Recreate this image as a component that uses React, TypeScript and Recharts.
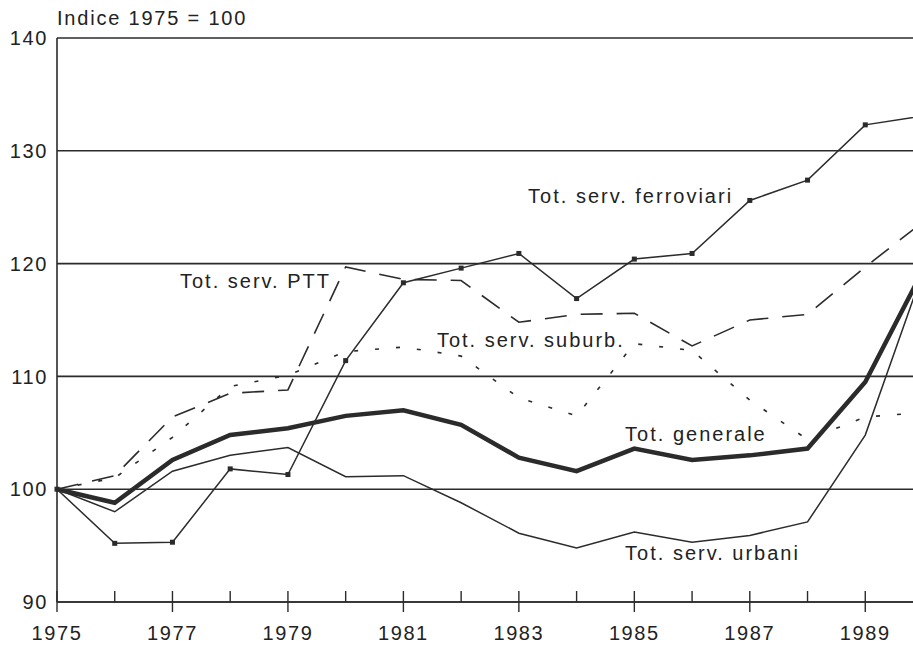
import React from 'react';
import { LineChart, Line, XAxis, YAxis, CartesianGrid, ReferenceDot } from 'recharts';

const years = [1975, 1976, 1977, 1978, 1979, 1980, 1981, 1982, 1983, 1984, 1985, 1986, 1987, 1988, 1989, 1990];
const ferroviari = [100, 95.2, 95.3, 101.8, 101.3, 111.4, 118.3, 119.6, 120.9, 116.9, 120.4, 120.9, 125.6, 127.4, 132.3, 133.1];
const ptt = [100, 101.2, 106.4, 108.5, 108.8, 119.7, 118.6, 118.5, 114.8, 115.5, 115.6, 112.7, 115.0, 115.5, 119.7, 123.7];
const suburb = [100, 101.0, 104.6, 109.1, 110.1, 112.2, 112.6, 111.8, 108.1, 106.5, 112.9, 112.3, 107.9, 104.4, 106.4, 106.8];
const generale = [100, 98.8, 102.6, 104.8, 105.4, 106.5, 107.0, 105.7, 102.8, 101.6, 103.6, 102.6, 103.0, 103.6, 109.5, 119.4];
const urbani = [100, 98.0, 101.6, 103.0, 103.7, 101.1, 101.2, 98.8, 96.1, 94.8, 96.2, 95.3, 95.9, 97.1, 104.8, 119.3];

const yTicks = [90, 100, 110, 120, 130, 140];

// series names written inside the plot (left end / baseline, in data units)
const seriesLabels = [
  { text: 'Tot. serv. ferroviari', year: 1983.16, value: 125.4 },
  { text: 'Tot. serv. PTT', year: 1977.13, value: 117.85 },
  { text: 'Tot. serv. suburb.', year: 1981.58, value: 112.65 },
  { text: 'Tot. generale', year: 1984.84, value: 104.27 },
  { text: 'Tot. serv. urbani', year: 1984.84, value: 93.71 },
];

const chartData = years.map((year, i) => ({
  year,
  ferroviari: ferroviari[i],
  ptt: ptt[i],
  suburb: suburb[i],
  generale: generale[i],
  urbani: urbani[i],
}));

const INK = '#2b2b2b';
const TEXT = '#222';
const FONT = '"Liberation Sans", Arial, sans-serif';

const YearTick = (props: any) => {
  const { x, y, payload } = props;
  const major = payload.value % 2 === 1;
  return (
    <g>
      <line x1={x} x2={x} y1={y - 11} y2={major ? y + 10 : y} stroke={INK} strokeWidth={1.4} />
      {major && (
        <text x={x} y={y + 38} textAnchor="middle" fontSize={20} fill={TEXT} fontFamily={FONT} letterSpacing={1.6}>
          {payload.value}
        </text>
      )}
    </g>
  );
};

const SquareDot = (props: any) => {
  const { cx, cy, index } = props;
  return <rect key={`sq-${index}`} x={cx - 2.5} y={cy - 2.5} width={5} height={5} fill={INK} />;
};

const nameShape = (text: string) => (props: any) => (
  <text x={props.cx} y={props.cy} fontSize={20} fill={TEXT} fontFamily={FONT} letterSpacing={2}>
    {text}
  </text>
);

export default function App() {
  return (
    <div style={{ position: 'absolute', left: 0, top: 0, width: 913, height: 647, overflow: 'hidden', background: '#fff' }}>
      <div
        style={{
          position: 'absolute',
          left: 57,
          top: 8,
          fontFamily: FONT,
          fontSize: 20,
          lineHeight: '20px',
          letterSpacing: 1.8,
          color: TEXT,
          whiteSpace: 'nowrap',
        }}
      >
        Indice 1975 = 100
      </div>
      <LineChart width={923} height={647} data={chartData} margin={{ top: 38, right: 0, bottom: 0, left: 0 }}>
        <CartesianGrid horizontal vertical={false} stroke={INK} strokeWidth={1.6} />
        <XAxis
          dataKey="year"
          type="number"
          domain={[1975, 1990]}
          ticks={years}
          interval={0}
          height={45}
          tickSize={0}
          tickMargin={0}
          tickLine={false}
          axisLine={{ stroke: INK, strokeWidth: 1.6 }}
          tick={<YearTick />}
        />
        <YAxis
          type="number"
          domain={[90, 140]}
          ticks={yTicks}
          width={57}
          tickSize={0}
          tickMargin={9}
          tickLine={false}
          axisLine={{ stroke: INK, strokeWidth: 1.6 }}
          tick={{ fontSize: 20, fill: TEXT, fontFamily: FONT, letterSpacing: 1.6 }}
        />
        <Line dataKey="suburb" stroke={INK} strokeWidth={1.6} strokeDasharray="4 17" dot={false} isAnimationActive={false} />
        <Line dataKey="ptt" stroke={INK} strokeWidth={1.6} strokeDasharray="22 14" dot={false} isAnimationActive={false} />
        <Line dataKey="urbani" stroke={INK} strokeWidth={1.5} dot={false} isAnimationActive={false} />
        <Line dataKey="ferroviari" stroke={INK} strokeWidth={1.5} dot={<SquareDot />} isAnimationActive={false} />
        <Line dataKey="generale" stroke={INK} strokeWidth={4.5} dot={false} isAnimationActive={false} />
        {seriesLabels.map((l) => (
          <ReferenceDot key={l.text} x={l.year} y={l.value} r={0} ifOverflow="visible" shape={nameShape(l.text)} />
        ))}
      </LineChart>
    </div>
  );
}
